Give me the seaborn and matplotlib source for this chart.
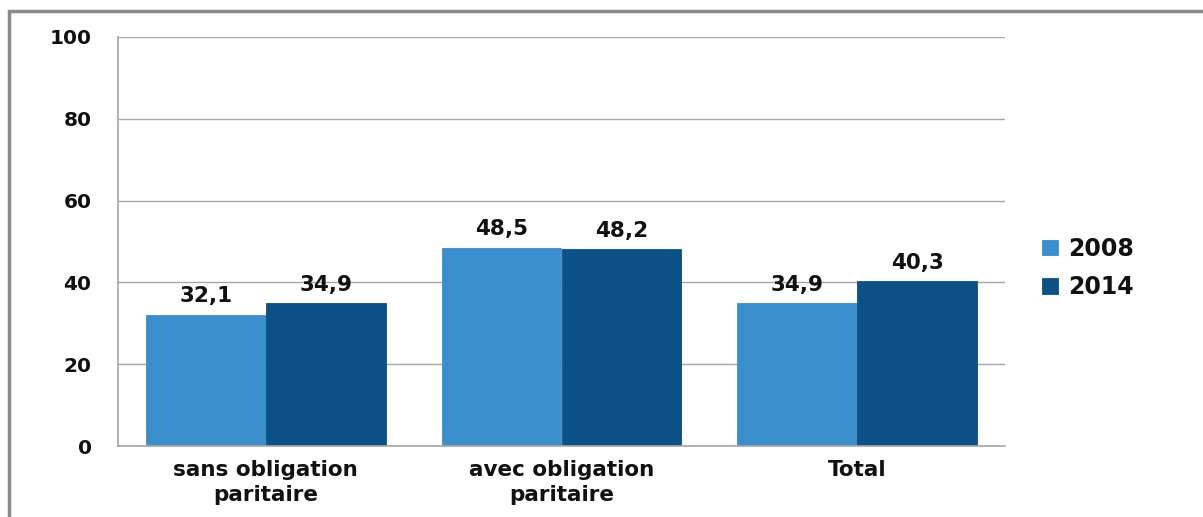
import matplotlib
matplotlib.use("Agg")
import matplotlib.pyplot as plt
import seaborn as sns
import pandas as pd
from matplotlib.patches import Rectangle

categories = ["sans obligation\nparitaire", "avec obligation\nparitaire", "Total"]
years = ["2008", "2014"]
values_2008 = [32.1, 48.5, 34.9]
values_2014 = [34.9, 48.2, 40.3]
yticks = [0, 20, 40, 60, 80, 100]
colors = ["#3A8ECB", "#0B5185"]

df = pd.DataFrame({
    "cat": categories * 2,
    "year": [years[0]] * 3 + [years[1]] * 3,
    "val": values_2008 + values_2014,
})

sns.set_theme(style="white")
plt.rcParams["font.family"] = ["DejaVu Sans"]
plt.rcParams["font.weight"] = "bold"

W, H = 1203, 517
fig = plt.figure(figsize=(W / 100, H / 100), dpi=100)
ax = fig.add_axes([118 / W, 1 - 446 / H, (1005 - 118) / W, (446 - 37) / H])

sns.barplot(data=df, x="cat", y="val", hue="year", palette=colors,
            width=0.81, gap=0, saturation=1, ax=ax, errorbar=None,
            edgecolor="none", linewidth=0)
for p in ax.patches:
    p.set_edgecolor(p.get_facecolor())
    p.set_linewidth(0.6)

ax.set_ylim(0, 100)
ax.set_xlim(-0.5, 2.5)
ax.set_yticks(yticks)
ax.set_yticklabels([str(t) for t in yticks], fontsize=14.5, fontweight="bold", color="#111111")
ax.yaxis.grid(True, color="#A6A6A6", linewidth=1.0)
ax.set_axisbelow(True)

ax.set_xticks([-0.5, 0.5, 1.5, 2.5])
ax.set_xticklabels([])
ax.set_xticks([0, 1, 2], minor=True)
ax.set_xticklabels(categories, minor=True, fontsize=15.5, fontweight="bold",
                   color="#111111", linespacing=1.3)
ax.tick_params(axis="x", which="major", length=7, width=1.2, color="#A6A6A6", direction="out")
ax.tick_params(axis="x", which="minor", length=0, pad=10)
ax.tick_params(axis="y", length=8, width=1.2, color="#A6A6A6", direction="out", pad=11)

for s in ["top", "right"]:
    ax.spines[s].set_visible(False)
for s in ["left", "bottom"]:
    ax.spines[s].set_color("#A6A6A6")
    ax.spines[s].set_linewidth(1.2)

for cont in ax.containers:
    ax.bar_label(cont, labels=[f"{v:.1f}".replace(".", ",") for v in cont.datavalues],
                 padding=6, fontsize=15.5, fontweight="bold", color="#111111")

ax.set_xlabel("")
ax.set_ylabel("")

leg = ax.legend(loc="center left", bbox_to_anchor=(1.018, 0.435), frameon=False,
                fontsize=17, handlelength=0.65, handleheight=0.65, handletextpad=0.45,
                labelspacing=0.62)
for t in leg.get_texts():
    t.set_fontweight("bold")
    t.set_color("#111111")

fig.patches.append(Rectangle((9 / W, -0.1), 1.2, 1 - 11 / H + 0.1,
                             transform=fig.transFigure, fill=False,
                             edgecolor="#8C8C8C", linewidth=2.5))

fig.savefig("out.png", dpi=100)
